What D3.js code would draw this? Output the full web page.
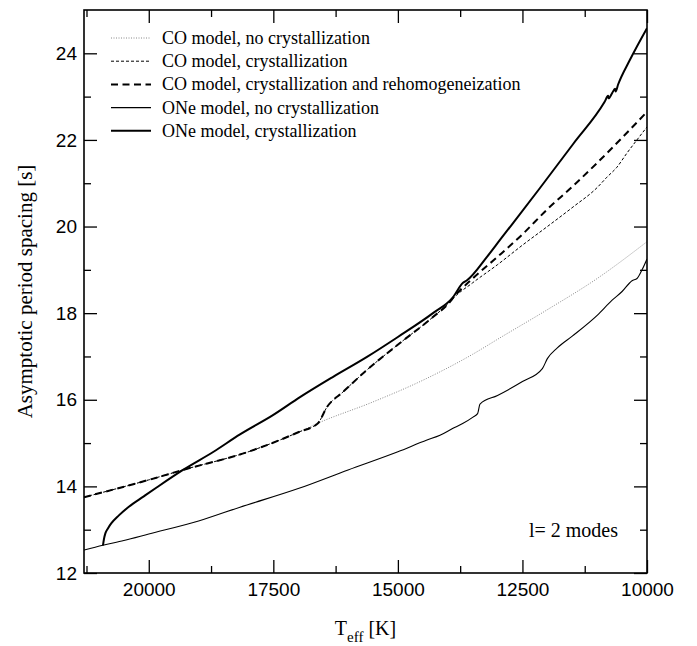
<!DOCTYPE html>
<html>
<head>
<meta charset="utf-8">
<script src="https://cdn.jsdelivr.net/npm/d3@7"></script>
<style>
  body { margin: 0; background: #fff; }
  svg { display: block; }
</style>
</head>
<body>
<svg id="chart"></svg>
<script>
const width = 697;
const height = 646;
const margin = { left: 84, right: 50, top: 10, bottom: 73 };

// T_eff [K] / period spacing [s]
const coNoCrystT = [21300, 20000, 19313, 18000, 17000, 16604, 15500, 14500, 13500, 12951, 12000, 11000, 10000];
const coNoCrystP = [13.75, 14.15, 14.38, 14.8, 15.25, 15.46, 15.95, 16.45, 17.05, 17.43, 18.08, 18.8, 19.65];

const coCrystT = [21300, 20000, 19313, 18000, 17000, 16604, 16424, 16102, 15620, 14958, 14296, 13955, 13900, 13500, 13000, 12500, 12000, 11486, 11000, 10804, 10604, 10400, 10202, 10000];
const coCrystP = [13.75, 14.15, 14.38, 14.8, 15.25, 15.46, 15.83, 16.18, 16.69, 17.31, 17.91, 18.26, 18.33, 18.7, 19.12, 19.57, 20.0, 20.45, 20.9, 21.14, 21.37, 21.7, 22.0, 22.3];

const coRehomT = [21300, 20000, 19313, 18000, 17000, 16604, 16424, 16102, 15620, 14958, 14296, 13955, 13900, 13500, 13000, 12500, 12000, 11500, 11000, 10500, 10000];
const coRehomP = [13.75, 14.15, 14.38, 14.8, 15.25, 15.46, 15.83, 16.18, 16.69, 17.31, 17.91, 18.26, 18.34, 18.8, 19.3, 19.82, 20.4, 20.92, 21.47, 22.05, 22.65];

const oneNoCrystT = [21300, 20919, 20500, 20000, 19000, 18169, 17000, 16000, 15000, 14416, 14155, 13894, 13700, 13493, 13400, 13352, 13000, 12500, 12100, 12000, 11800, 11500, 11000, 10700, 10500, 10300, 10200, 10100, 10000];
const oneNoCrystP = [12.53, 12.64, 12.75, 12.9, 13.2, 13.52, 13.95, 14.38, 14.8, 15.07, 15.18, 15.34, 15.45, 15.6, 15.68, 15.9, 16.1, 16.42, 16.72, 16.95, 17.2, 17.47, 17.95, 18.3, 18.5, 18.75, 18.8, 19.0, 19.25];

const oneCrystT = [20919, 20900, 20870, 20820, 20750, 20600, 20400, 20100, 19835, 19313, 18700, 18169, 17500, 16965, 16300, 15620, 15000, 14296, 13900, 13693, 13613, 13212, 12951, 12148, 11486, 10850, 10780, 10770, 10700, 10640, 10630, 10580, 10342, 10000];
const oneCrystP = [12.64, 12.78, 12.92, 13.03, 13.15, 13.33, 13.53, 13.77, 13.98, 14.38, 14.8, 15.2, 15.65, 16.06, 16.53, 16.99, 17.45, 18.0, 18.36, 18.7, 18.76, 19.3, 19.69, 20.89, 21.9, 22.88, 23.02, 22.96, 23.08, 23.18, 23.12, 23.28, 23.85, 24.58];

const legendLabels = [
  "CO model, no crystallization",
  "CO model, crystallization",
  "CO model, crystallization and rehomogeneization",
  "ONe model, no crystallization",
  "ONe model, crystallization"
];

const xTicks = [20000, 17500, 15000, 12500, 10000];
const yTicks = [12, 14, 16, 18, 20, 22, 24];

const series = [
  { t: coNoCrystT, p: coNoCrystP, stroke: "#888", w: 1, dash: "1,1.5" },
  { t: coCrystT, p: coCrystP, stroke: "#000", w: 1, dash: "3,2" },
  { t: coRehomT, p: coRehomP, stroke: "#000", w: 2, dash: "7,4.5" },
  { t: oneNoCrystT, p: oneNoCrystP, stroke: "#000", w: 1.1, dash: null },
  { t: oneCrystT, p: oneCrystP, stroke: "#000", w: 2, dash: null }
];

const svg = d3.select("#chart")
    .attr("width", width)
    .attr("height", height);

const x = d3.scaleLinear()
    .domain([21300, 10000])
    .range([margin.left, width - margin.right]);

const y = d3.scaleLinear()
    .domain([12, 25])
    .range([height - margin.bottom, margin.top]);

const x0 = margin.left, x1 = width - margin.right;
const y0 = height - margin.bottom, y1 = margin.top;

const xMinor = d3.range(21250, 9999, -1250).filter(v => !xTicks.includes(v));
const yMinor = d3.range(13, 25, 2);

// curves
const line = d3.line()
    .curve(d3.curveMonotoneX)
    .x(d => x(d[0]))
    .y(d => y(d[1]));

svg.append("defs").append("clipPath").attr("id", "clip")
  .append("rect")
    .attr("x", x0).attr("y", y1)
    .attr("width", x1 - x0).attr("height", y0 - y1);

const plot = svg.append("g").attr("clip-path", "url(#clip)");

series.forEach(s => {
    plot.append("path")
        .datum(s.t.map((t, i) => [t, s.p[i]]))
        .attr("fill", "none")
        .attr("stroke", s.stroke)
        .attr("stroke-width", s.w)
        .attr("stroke-dasharray", s.dash)
        .attr("stroke-linejoin", "round")
        .attr("d", line);
});

// axes (ticks point inward on all four sides)
function axis(gen, tr, vals, size, labels) {
    const g = svg.append("g")
        .attr("transform", tr)
        .call(gen.tickValues(vals).tickSize(size).tickSizeOuter(0)
            .tickFormat(labels ? d3.format("d") : ""));
    g.select(".domain").remove();
    g.selectAll(".tick line").attr("stroke", "#000").attr("stroke-width", 1.3);
    return g;
}

const xb = axis(d3.axisBottom(x), `translate(0,${y0})`, xTicks, -13, true);
axis(d3.axisBottom(x), `translate(0,${y0})`, xMinor, -7, false);
axis(d3.axisTop(x), `translate(0,${y1})`, xTicks, -13, false);
axis(d3.axisTop(x), `translate(0,${y1})`, xMinor, -7, false);
const yl = axis(d3.axisLeft(y), `translate(${x0},0)`, yTicks, -13, true);
axis(d3.axisLeft(y), `translate(${x0},0)`, yMinor, -7, false);
axis(d3.axisRight(y), `translate(${x1},0)`, yTicks, -13, false);
axis(d3.axisRight(y), `translate(${x1},0)`, yMinor, -7, false);

xb.selectAll(".tick text")
    .attr("y", 10)
    .attr("dy", "0.71em")
    .style("font-family", "'Liberation Sans', Arial, sans-serif")
    .style("font-size", "19px")
    .attr("fill", "#000");

yl.selectAll(".tick text")
    .attr("x", -7)
    .style("font-family", "'Liberation Sans', Arial, sans-serif")
    .style("font-size", "19px")
    .attr("fill", "#000");

svg.append("rect")
    .attr("x", x0).attr("y", y1)
    .attr("width", x1 - x0).attr("height", y0 - y1)
    .attr("fill", "none")
    .attr("stroke", "#000")
    .attr("stroke-width", 1.6);

// legend
const legend = svg.append("g");
legendLabels.forEach((lab, i) => {
    const s = series[i];
    const ly = 38 + i * 23.2;
    legend.append("line")
        .attr("x1", 111).attr("x2", 151)
        .attr("y1", ly).attr("y2", ly)
        .attr("stroke", s.stroke)
        .attr("stroke-width", s.w)
        .attr("stroke-dasharray", s.dash);
    legend.append("text")
        .attr("x", 162).attr("y", ly + 6)
        .style("font-family", "'Liberation Serif', 'Times New Roman', serif")
        .style("font-size", "18px")
        .text(lab);
});

svg.append("text")
    .attr("x", 618).attr("y", 537)
    .attr("text-anchor", "end")
    .style("font-family", "'Liberation Serif', 'Times New Roman', serif")
    .style("font-size", "20px")
    .text("l= 2 modes");

// axis titles
const xt = svg.append("text")
    .attr("x", (x0 + x1) / 2).attr("y", 635)
    .attr("text-anchor", "middle")
    .style("font-family", "'Liberation Serif', 'Times New Roman', serif")
    .style("font-size", "20px");
xt.append("tspan").text("T");
xt.append("tspan").attr("dy", 7).style("font-size", "15px").text("eff");
xt.append("tspan").attr("dy", -7).text(" [K]");

svg.append("text")
    .attr("transform", `translate(32,${(y0 + y1) / 2}) rotate(-90)`)
    .attr("text-anchor", "middle")
    .style("font-family", "'Liberation Serif', 'Times New Roman', serif")
    .style("font-size", "21px")
    .text("Asymptotic period spacing [s]");
</script>
</body>
</html>
